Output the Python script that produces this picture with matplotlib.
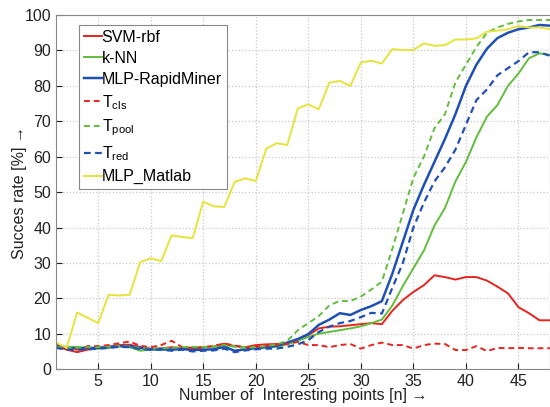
import numpy as np
import matplotlib.pyplot as plt

plt.rcParams['font.family'] = ['Liberation Sans', 'DejaVu Sans']

# Number of interesting points
n = np.arange(1, 49)

svm_rbf = [6.5, 5.5, 4.8, 5.5, 6.0, 6.3, 6.8, 6.9, 6.3, 5.8, 5.9, 6.2, 5.9, 5.7, 6.1, 6.4,
           7.2, 6.5, 6.2, 6.8, 7.0, 7.1, 7.2, 8.5, 9.6, 11.5, 12.0, 12.1, 12.4, 12.7, 13.0, 12.7,
           16.5, 19.5, 21.8, 23.7, 26.5, 26.0, 25.3, 26.0, 26.0, 25.0, 23.3, 21.4, 17.5, 15.8, 13.8, 13.8]
knn = [7.0, 6.2, 6.3, 6.0, 5.8, 6.0, 6.5, 6.2, 5.2, 5.5, 5.8, 5.8, 6.0, 6.2, 6.2, 6.3,
       6.6, 6.5, 6.2, 6.0, 6.2, 6.3, 7.0, 8.0, 9.1, 10.0, 10.5, 11.0, 11.5, 12.1, 13.0, 14.0,
       18.0, 23.5, 28.5, 33.5, 40.5, 45.5, 53.0, 58.5, 65.5, 71.3, 74.6, 80.0, 83.5, 87.8, 89.2, 88.7]
mlp_rm = [7.0, 6.0, 5.8, 6.0, 6.0, 6.2, 6.5, 6.5, 6.0, 5.6, 5.6, 5.5, 5.7, 5.4, 5.5, 5.6,
          6.3, 5.2, 5.6, 5.9, 6.2, 6.6, 7.5, 8.5, 9.9, 12.5, 14.0, 15.8, 15.3, 16.7, 17.8, 19.2,
          27.0, 36.0, 45.0, 52.0, 58.5, 65.0, 72.0, 80.0, 86.0, 90.5, 93.5, 95.0, 96.0, 96.5, 97.2, 97.0]
t_cls = [6.5, 5.8, 5.5, 6.5, 6.5, 6.8, 7.3, 7.8, 6.6, 6.2, 6.8, 8.0, 6.2, 5.9, 6.2, 6.6,
         7.2, 6.7, 6.1, 6.3, 6.6, 6.9, 7.1, 7.7, 6.8, 6.8, 6.2, 6.8, 7.1, 5.8, 6.8, 7.5,
         6.8, 6.8, 5.8, 6.8, 7.2, 7.1, 5.4, 5.4, 6.5, 5.1, 6.0, 5.9, 6.0, 5.9, 5.9, 5.9]
t_pool = [6.2, 6.0, 6.0, 6.2, 6.2, 6.3, 6.5, 6.4, 6.0, 5.8, 5.9, 6.0, 6.2, 6.3, 6.2, 6.4,
          6.8, 6.3, 6.0, 6.2, 6.5, 7.0, 8.0, 11.0, 13.0, 15.0, 18.0, 19.3, 19.2, 20.5, 22.5, 24.7,
          34.0, 44.0, 54.0, 60.0, 68.0, 72.0, 81.0, 86.0, 91.0, 95.0, 96.5, 97.5, 98.2, 98.6, 98.6, 98.6]
t_red = [6.0, 5.5, 5.5, 5.6, 5.8, 6.0, 6.3, 6.2, 5.7, 5.5, 5.5, 5.2, 5.5, 5.0, 5.2, 5.3,
         5.8, 4.8, 5.3, 5.6, 5.8, 5.8, 6.3, 7.0, 8.2, 10.5, 12.0, 13.0, 13.6, 14.7, 15.9, 15.7,
         23.0, 30.0, 40.0, 47.0, 53.0, 57.0, 62.0, 69.0, 76.0, 79.0, 83.0, 85.0, 87.0, 89.5, 89.5, 88.5]
mlp_matlab = [7.5, 6.0, 16.0, 14.5, 13.0, 21.0, 20.8, 21.0, 30.2, 31.3, 30.5, 37.8, 37.3, 37.0, 47.3, 46.0,
              45.8, 52.9, 53.9, 53.1, 62.3, 63.8, 63.3, 73.6, 74.8, 73.4, 80.9, 81.4, 80.0, 86.6, 87.1, 86.3,
              90.4, 90.1, 90.1, 92.0, 91.3, 91.5, 93.1, 93.1, 93.4, 95.3, 95.6, 96.0, 96.9, 96.5, 96.5, 96.0]

red = '#e8231f'
green = '#62bd3c'
blue = '#1f50b4'
yellow = '#e6e33c'

fig = plt.figure(figsize=(5.5, 4.07), dpi=100)
ax = fig.add_axes([0.102, 0.093, 0.898, 0.870])

lw = 1.4
ax.plot(n, svm_rbf, color=red, lw=lw, label='SVM-rbf')
ax.plot(n, knn, color=green, lw=lw, label='k-NN')
ax.plot(n, mlp_rm, color=blue, lw=lw + 0.4, label='MLP-RapidMiner')
ax.plot(n, t_cls, color=red, lw=lw, ls=(0, (3, 2)), label=r'T$_{\mathregular{cls}}$')
ax.plot(n, t_pool, color=green, lw=lw, ls=(0, (3, 2)), label=r'T$_{\mathregular{pool}}$')
ax.plot(n, t_red, color=blue, lw=lw + 0.2, ls=(0, (3, 2)), label=r'T$_{\mathregular{red}}$')
ax.plot(n, mlp_matlab, color=yellow, lw=lw, label='MLP_Matlab')

ax.set_xlim(1, 48)
ax.set_ylim(0, 100)
ax.set_xticks(range(5, 50, 5))
ax.set_yticks(range(0, 101, 10))
ax.tick_params(direction='in', length=4, labelsize=11.5, colors='#222222')
ax.grid(True, ls=':', color='#c8c8c8', lw=0.9)
for s in ax.spines.values():
    s.set_color('#888888')

ax.set_xlabel('Number of  Interesting points [n] \u2192', fontsize=11.5, color='#222222', labelpad=-1)
ax.set_ylabel('Succes rate [%] \u2192', fontsize=11.5, color='#222222', labelpad=-1.5)

leg = ax.legend(loc='upper left', bbox_to_anchor=(0.047, 0.972), fontsize=11.5,
                handlelength=1.1, handletextpad=0.0, labelspacing=0.38,
                borderpad=0.3, borderaxespad=0.0, fancybox=False, framealpha=1,
                edgecolor='#888888')
leg.get_frame().set_linewidth(0.8)

fig.savefig('out.png', dpi=100)
